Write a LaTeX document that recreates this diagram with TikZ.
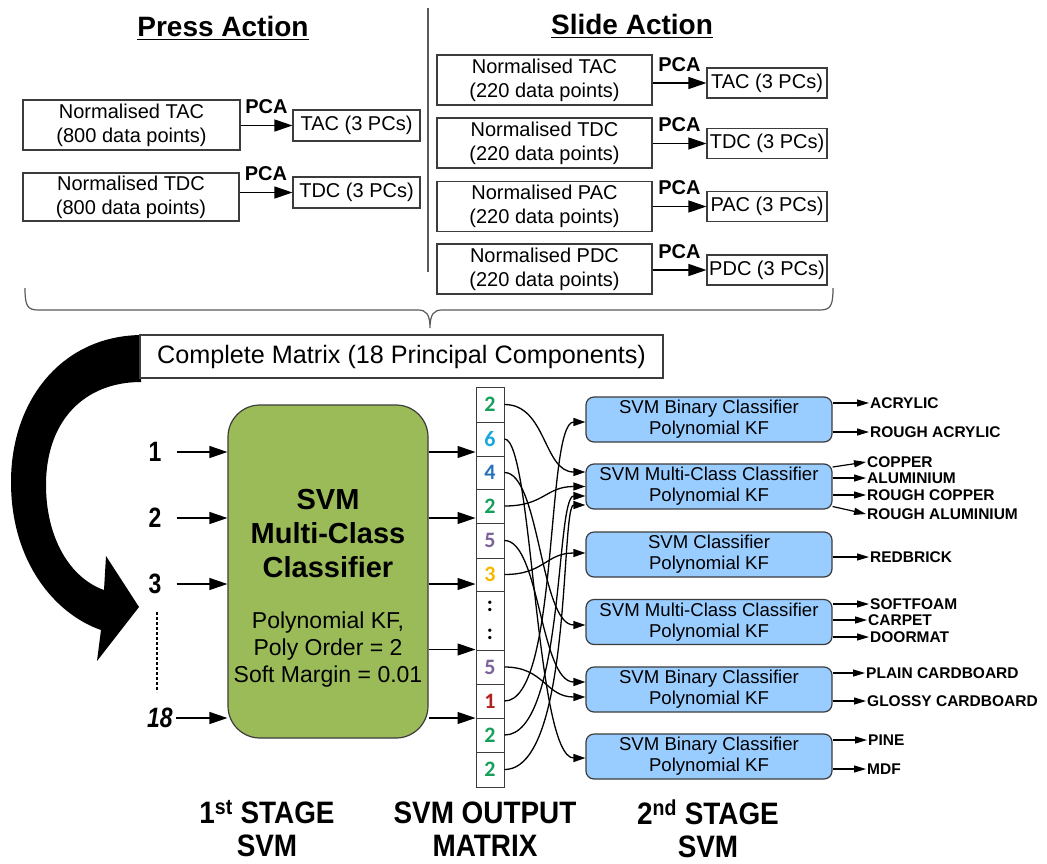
\documentclass[tikz,border=0pt]{standalone}
\usepackage{fontspec}
\setmainfont{Liberation Sans}
\newfontfamily\narrowfont{Liberation Sans}[FakeStretch=0.82]
\newfontfamily\captionfont{Liberation Sans}[FakeStretch=0.9]
\newfontfamily\digitfont{Carlito}
\usetikzlibrary{arrows.meta}
\definecolor{boxline}{HTML}{3C3C3C}
\definecolor{guide}{HTML}{5A5A5A}
\definecolor{svmgreen}{HTML}{9BBB59}
\definecolor{clsblue}{HTML}{99CCFF}
\definecolor{dgreen}{HTML}{14A05A}
\definecolor{dcyan}{HTML}{1AA7E0}
\definecolor{dblue}{HTML}{2672B8}
\definecolor{dpurple}{HTML}{7B6598}
\definecolor{dgold}{HTML}{F5B800}
\definecolor{dred}{HTML}{B22222}

\begin{document}
\begin{tikzpicture}[x=1pt,y=-1pt,
  title/.style={font=\bfseries\fontsize{28}{30}\selectfont, inner sep=0pt},
  box/.style={draw=boxline, line width=1.1pt, fill=white, inner sep=0pt,
    align=center, font=\fontsize{20}{24}\selectfont},
  pca/.style={font=\bfseries\fontsize{20}{24}\selectfont, inner sep=0pt},
  bigarr/.style={line width=1.2pt, -{Triangle[length=18pt,width=12pt]}},
  conn/.style={line width=1.3pt, -{Triangle[length=12pt,width=8pt]}},
  outarr/.style={line width=1.2pt, -{Triangle[length=12pt,width=7pt]}},
  inlab/.style={font=\narrowfont\bfseries\fontsize{28}{30}\selectfont, inner sep=0pt},
  cell/.style={draw=boxline, line width=1pt, fill=white, minimum width=28pt,
    inner sep=0pt, font=\digitfont\bfseries\fontsize{22}{22}\selectfont},
  cls/.style={draw=boxline, fill=clsblue, rounded corners=8pt, line width=1.2pt,
    minimum width=246pt, minimum height=45pt, align=center, inner sep=0pt,
    font=\fontsize{18.6}{21}\selectfont},
  outlab/.style={font=\bfseries\fontsize{15.5}{17}\selectfont, anchor=west, inner sep=1pt},
  botlab/.style={font=\captionfont\bfseries\fontsize{31}{33}\selectfont, align=center, inner sep=0pt}
]
\useasboundingbox (0,0) rectangle (1047,863);
\fill[white] (0,0) rectangle (1047,863);

% ---- headings and divider
\node[title] (tpress) at (223,26) {Press Action};
\draw[line width=1.5pt] ([yshift=-3pt]tpress.south west) -- ([yshift=-3pt]tpress.south east);
\node[title] (tslide) at (632,24) {Slide Action};
\draw[line width=1.5pt] ([yshift=-3pt]tslide.south west) -- ([yshift=-3pt]tslide.south east);
\draw[guide, line width=1.3pt] (428,8) -- (428,272);

% ---- press action features
\node[box, minimum width=217pt, minimum height=50pt] (ptac) at (131.5,125) {Normalised TAC\\(800 data points)};
\node[box, minimum width=127pt, minimum height=31pt] (ptacpc) at (356.5,125.5) {TAC (3 PCs)};
\draw[bigarr] (ptac.east |- ptacpc.west) -- (ptacpc.west) node[pca, midway, above=11pt] {PCA};

\node[box, minimum width=216pt, minimum height=48pt] (ptdc) at (131,197) {Normalised TDC\\(800 data points)};
\node[box, minimum width=127pt, minimum height=31pt] (ptdcpc) at (356.5,192.5) {TDC (3 PCs)};
\draw[bigarr] (ptdc.east |- ptdcpc.west) -- (ptdcpc.west) node[pca, midway, above=11pt] {PCA};

% ---- slide action features
\node[box, minimum width=215pt, minimum height=50pt] (stac) at (544.5,80) {Normalised TAC\\(220 data points)};
\node[box, minimum width=120pt, minimum height=30pt] (stacpc) at (767,83) {TAC (3 PCs)};
\draw[bigarr] (stac.east |- stacpc.west) -- (stacpc.west) node[pca, midway, above=11pt] {PCA};

\node[box, minimum width=215pt, minimum height=50pt] (stdc) at (544.5,143) {Normalised TDC\\(220 data points)};
\node[box, minimum width=120pt, minimum height=30pt] (stdcpc) at (767,143.5) {TDC (3 PCs)};
\draw[bigarr] (stdc.east |- stdcpc.west) -- (stdcpc.west) node[pca, midway, above=11pt] {PCA};

\node[box, minimum width=215pt, minimum height=50pt] (spac) at (544.5,206.5) {Normalised PAC\\(220 data points)};
\node[box, minimum width=120pt, minimum height=30pt] (spacpc) at (767,206.5) {PAC (3 PCs)};
\draw[bigarr] (spac.east |- spacpc.west) -- (spacpc.west) node[pca, midway, above=11pt] {PCA};

\node[box, minimum width=215pt, minimum height=50pt] (spdc) at (544.5,269) {Normalised PDC\\(220 data points)};
\node[box, minimum width=120pt, minimum height=30pt] (spdcpc) at (767,270) {PDC (3 PCs)};
\draw[bigarr] (spdc.east |- spdcpc.west) -- (spdcpc.west) node[pca, midway, above=11pt] {PCA};

% ---- brace gathering all components
\draw[guide, line width=1.2pt]
  (25,288) .. controls (25,305) and (27,310) .. (38,310) -- (418,310)
  .. controls (426,310) and (430,314) .. (430,328)
  .. controls (430,314) and (434,310) .. (442,310) -- (820,310)
  .. controls (831,310) and (833,305) .. (833,288);

% ---- curved feed arrow
\fill[black] (141,335) .. controls (62,336) and (11,400) .. (11,482)
  .. controls (11,562) and (55,614) .. (101,630) -- (97,661) -- (139,607)
  -- (106,556) -- (104,590) .. controls (70,578) and (46,538) .. (46,485)
  .. controls (46,420) and (85,382) .. (141,382) -- cycle;

\node[box, minimum width=523pt, minimum height=43pt, font=\fontsize{25.2}{27}\selectfont] (cm) at (401.5,356.5)
  {Complete Matrix (18 Principal Components)};

% ---- first stage SVM
\node[draw=boxline, fill=svmgreen, line width=1.2pt, rounded corners=32pt,
  minimum width=200pt, minimum height=333pt] (g) at (328,571.5) {};
\node[font=\bfseries\fontsize{29}{34}\selectfont, align=center, inner sep=0pt] (gt) at (328,534)
  {SVM\\Multi-Class\\Classifier};
\node[font=\fontsize{23}{27}\selectfont, align=center, inner sep=0pt] (gp) at (328,650)
  {Polynomial KF,\\Poly Order = 2\\Soft Margin = 0.01};

\node[inlab] (i1) at (155,452) {1};
\node[inlab] (i2) at (155,518) {2};
\node[inlab] (i3) at (155,584) {3};
\node[inlab, font=\narrowfont\bfseries\itshape\fontsize{28}{30}\selectfont] (i18) at (160,718) {18};
\draw[line width=1.6pt, dash pattern=on 2.5pt off 2.5pt] (157,612) -- (157,692);

\draw[bigarr] ([xshift=15pt]i1.east) -- (i1 -| g.west);
\draw[bigarr] ([xshift=15pt]i2.east) -- (i2 -| g.west);
\draw[bigarr] ([xshift=15pt]i3.east) -- (i3 -| g.west);
\draw[bigarr] ([xshift=3pt]i18.east) -- (i18 -| g.west);

% ---- SVM output matrix
\node[cell, minimum height=35pt, text=dgreen]  (m1)  at (490,404.5) {2};
\node[cell, minimum height=34pt, text=dcyan]   (m2)  at (490,439)   {6};
\node[cell, minimum height=33pt, text=dblue]   (m3)  at (490,472.5) {4};
\node[cell, minimum height=34pt, text=dgreen]  (m4)  at (490,506)   {2};
\node[cell, minimum height=35pt, text=dpurple] (m5)  at (490,540.5) {5};
\node[cell, minimum height=33pt, text=dgold]   (m6)  at (490,574.5) {3};
\node[cell, minimum height=59pt, align=center, font=\digitfont\bfseries\fontsize{22}{28}\selectfont] (m7) at (490,620.5) {:\\:};
\node[cell, minimum height=34pt, text=dpurple] (m8)  at (490,667)   {5};
\node[cell, minimum height=34pt, text=dred]    (m9)  at (490,701)   {1};
\node[cell, minimum height=34pt, text=dgreen]  (m10) at (490,735)   {2};
\node[cell, minimum height=35pt, text=dgreen]  (m11) at (490,769.5) {2};

\draw[bigarr] (g.east |- i1) -- (m1.west |- i1);
\draw[bigarr] (g.east |- i2) -- (m1.west |- i2);
\draw[bigarr] (g.east |- i3) -- (m1.west |- i3);
\draw[bigarr] (g.east |- m8.north) -- (m1.west |- m8.north);
\draw[bigarr] (g.east |- i18) -- (m1.west |- i18);

% ---- second stage classifiers
\node[cls] (c1) at (709,419.5) {SVM Binary Classifier\\Polynomial KF};
\node[cls] (c2) at (709,486.5) {SVM Multi-Class Classifier\\Polynomial KF};
\node[cls] (c3) at (709,554.5) {SVM Classifier\\Polynomial KF};
\node[cls] (c4) at (709,622)   {SVM Multi-Class Classifier\\Polynomial KF};
\node[cls] (c5) at (709,689.5) {SVM Binary Classifier\\Polynomial KF};
\node[cls] (c6) at (709,756.5) {SVM Binary Classifier\\Polynomial KF};

% ---- routing of matrix entries to the classifiers
\draw[conn] (m1.east)  .. controls +(42,0) and +(-42,0) .. ([yshift=14.5pt]c2.west);
\draw[conn] (m2.east)  .. controls +(28,0) and +(-50,0) .. ([yshift=-1.5pt]c6.west);
\draw[conn] (m3.east)  .. controls +(35,0) and +(-45,0) .. ([yshift=-3pt]c4.west);
\draw[conn] (m4.east)  .. controls +(40,0) and +(-40,0) .. (c2.west);
\draw[conn] (m5.east)  .. controls +(35,0) and +(-45,0) .. ([yshift=7.5pt]c5.west);
\draw[conn] (m6.east)  .. controls +(40,0) and +(-40,0) .. ([yshift=1.5pt]c3.west);
\draw[conn] (m8.east)  .. controls +(40,0) and +(-40,0) .. ([yshift=-7.5pt]c5.west);
\draw[conn] (m9.east)  .. controls +(55,0) and +(-40,0) .. ([yshift=-2.5pt]c1.west);
\draw[conn] (m10.east) .. controls +(60,0) and +(-30,0) .. ([yshift=-9.5pt]c2.west);
\draw[conn] (m11.east) .. controls +(68,0) and +(-25,0) .. ([yshift=-18.5pt]c2.west);

% ---- class labels
\node[outlab] (o1)  at (869,403) {ACRYLIC};
\node[outlab] (o2)  at (869,432) {ROUGH ACRYLIC};
\node[outlab] (o3)  at (866,462) {COPPER};
\node[outlab] (o4)  at (866,478) {ALUMINIUM};
\node[outlab] (o5)  at (866,495) {ROUGH COPPER};
\node[outlab] (o6)  at (866,514) {ROUGH ALUMINIUM};
\node[outlab] (o7)  at (869,557) {REDBRICK};
\node[outlab] (o8)  at (869,604) {SOFTFOAM};
\node[outlab] (o9)  at (867,620) {CARPET};
\node[outlab] (o10) at (869,637) {DOORMAT};
\node[outlab] (o11) at (865,673) {PLAIN CARDBOARD};
\node[outlab] (o12) at (866,701) {GLOSSY CARDBOARD};
\node[outlab] (o13) at (867,740) {PINE};
\node[outlab] (o14) at (866,769) {MDF};

\draw[outarr] (c1.east |- o1.west) -- (o1.west);
\draw[outarr] (c1.east |- o2.west) -- (o2.west);
\draw[outarr] ([yshift=19.5pt]c2.east) -- (o3.west);
\draw[outarr] (c2.east |- o4.west) -- (o4.west);
\draw[outarr] (c2.east |- o5.west) -- (o5.west);
\draw[outarr] ([yshift=-20pt]c2.east) -- (o6.west);
\draw[outarr] (c3.east |- o7.west) -- (o7.west);
\draw[outarr] (c4.east |- o8.west) -- (o8.west);
\draw[outarr] (c4.east |- o9.west) -- (o9.west);
\draw[outarr] (c4.east |- o10.west) -- (o10.west);
\draw[outarr] (c5.east |- o11.west) -- (o11.west);
\draw[outarr] (c5.east |- o12.west) -- (o12.west);
\draw[outarr] (c6.east |- o13.west) -- (o13.west);
\draw[outarr] (c6.east |- o14.west) -- (o14.west);

% ---- stage captions
\node[botlab] (b1) at (267,829) {1\textsuperscript{st} STAGE\\SVM};
\node[botlab] (b2) at (485,829) {SVM OUTPUT\\MATRIX};
\node[botlab] (b3) at (708,829) {2\textsuperscript{nd} STAGE\\SVM};
\end{tikzpicture}
\end{document}
